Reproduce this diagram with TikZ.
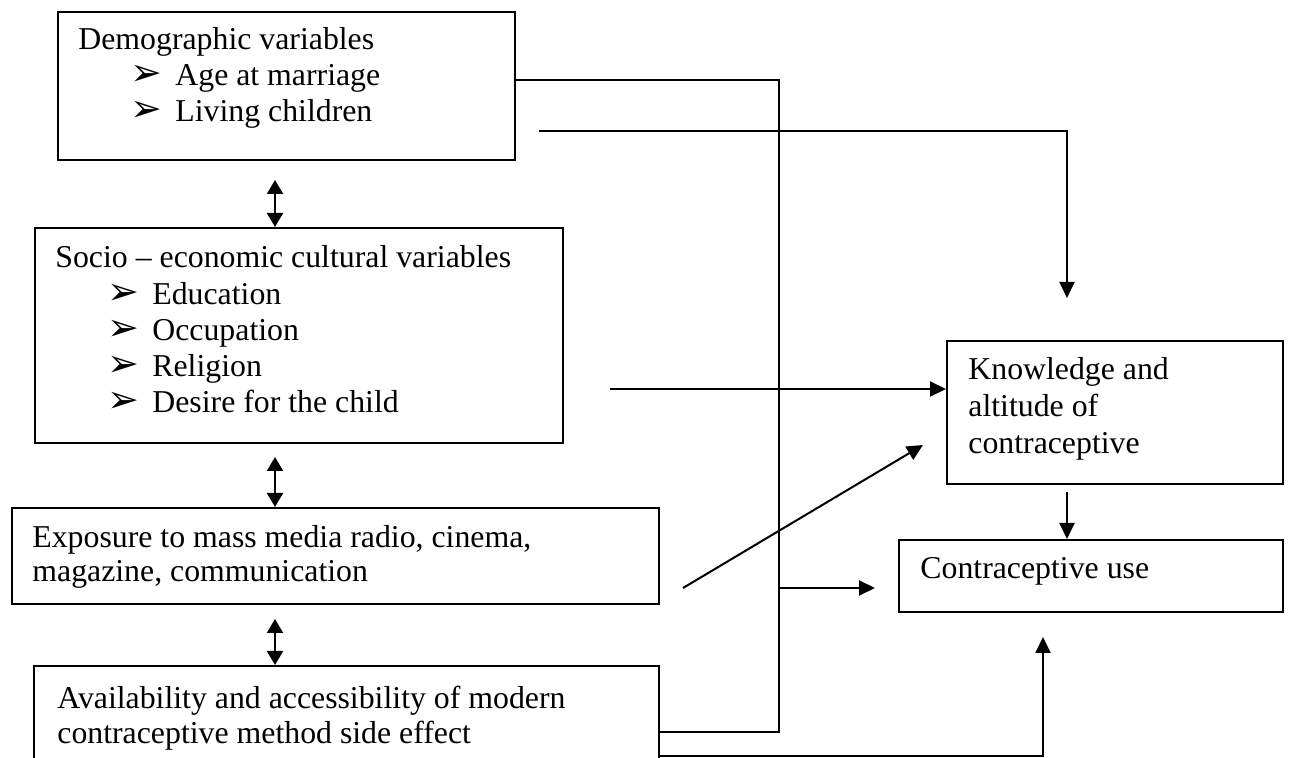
\documentclass[tikz,border=0pt]{standalone}
\usepackage{fontspec}
\setmainfont{Liberation Serif}
\newfontfamily\dingfont{DejaVu Sans}
\usetikzlibrary{arrows.meta, calc, fit}

\tikzset{
  box/.style={draw, line width=1pt, inner sep=0pt},
  txt/.style={anchor=base west, inner sep=0pt, font=\fontsize{15.9pt}{18pt}\selectfont},
  bul/.style={anchor=base west, inner sep=0pt, font=\dingfont\fontsize{19pt}{19pt}\selectfont},
  line/.style={line width=1pt},
  arr/.style={line width=1pt, -{Triangle[length=8pt,width=7.5pt]}},
  dblarr/.style={line width=1pt, {Triangle[length=7pt,width=8pt]}-{Triangle[length=7pt,width=8pt]}}
}

\begin{document}
\begin{tikzpicture}[x=0.5pt,y=-0.5pt]

\useasboundingbox (0,0) rectangle (1291,758);
\clip (0,0) rectangle (1291,758);

%boxes:
\node[box, fit={(58,12) (515,160)}] (demo) {};
\node[box, fit={(35,228) (563,443)}] (socio) {};
\node[box, fit={(12,508) (659,604)}] (media) {};
\node[box, fit={(34,666) (659,790)}] (avail) {};
\node[box, fit={(947,341) (1283,484)}] (know) {};
\node[box, fit={(899,540) (1283,612)}] (use) {};

%texts:
\node[txt] (demohead) at (78,50) {Demographic variables};
\foreach \t [count=\i from 0] in {Age at marriage, Living children}{
  \node[bul] (demobul\i) at (130,{86+36*\i}) {➢};
  \node[txt] (demoitem\i) at (175,{86+36*\i}) {\t};
}
\node[txt] (sociohead) at (55,268) {Socio – economic cultural variables};
\foreach \t [count=\i from 0] in {Education, Occupation, Religion, Desire for the child}{
  \node[bul] (sociobul\i) at (107,{305+36*\i}) {➢};
  \node[txt] (socioitem\i) at (152,{305+36*\i}) {\t};
}
\node[txt] (media0) at (32,548) {Exposure to mass media radio, cinema,};
\node[txt] (media1) at (32,582) {magazine, communication};
\node[txt] (avail0) at (57,709) {Availability and accessibility of modern};
\node[txt] (avail1) at (57,743) {contraceptive method side effect};
\foreach \t [count=\i from 0] in {Knowledge and, altitude of, contraceptive}
  \node[txt] (know\i) at (968,{380+37*\i}) {\t};
\node[txt] (use0) at (920,579) {Contraceptive use};

%free ends of the connectors:
\coordinate (xdbl) at (275,0);
\coordinate (jn) at (779,80);
\coordinate (jnlow) at (779,732);
\coordinate (usetip) at (875,588);
\coordinate (livstart) at (539,131);
\coordinate (livtip) at (1067,298);
\coordinate (sociostart) at (610,389);
\coordinate (mediastart) at (683,588);
\coordinate (mediatip) at (923,445);
\coordinate (kuse) at (1067,492);
\coordinate (availlow) at (0,756);
\coordinate (availtip) at (1043,637);

%double arrows between the left boxes:
\foreach \a/\b/\g in {demo/socio/19, socio/media/13, media/avail/14}
  \draw[dblarr] ($(\a.south -| xdbl)+(0,\g)$) -- (\b.north -| xdbl);

%connectors:
\draw[line] (avail.east |- jnlow) -- (jnlow) -- (jn) -- (demo.east |- jn);
\draw[arr] (jn |- usetip) -- (usetip);
\draw[arr] (livstart) -| (livtip);
\draw[arr] (sociostart) -- (know.west |- sociostart);
\draw[arr] (mediastart) -- (mediatip);
\draw[arr] (kuse) -- (kuse |- use.north);
\draw[arr] (avail.east |- availlow) -| (availtip);

\end{tikzpicture}
\end{document}
